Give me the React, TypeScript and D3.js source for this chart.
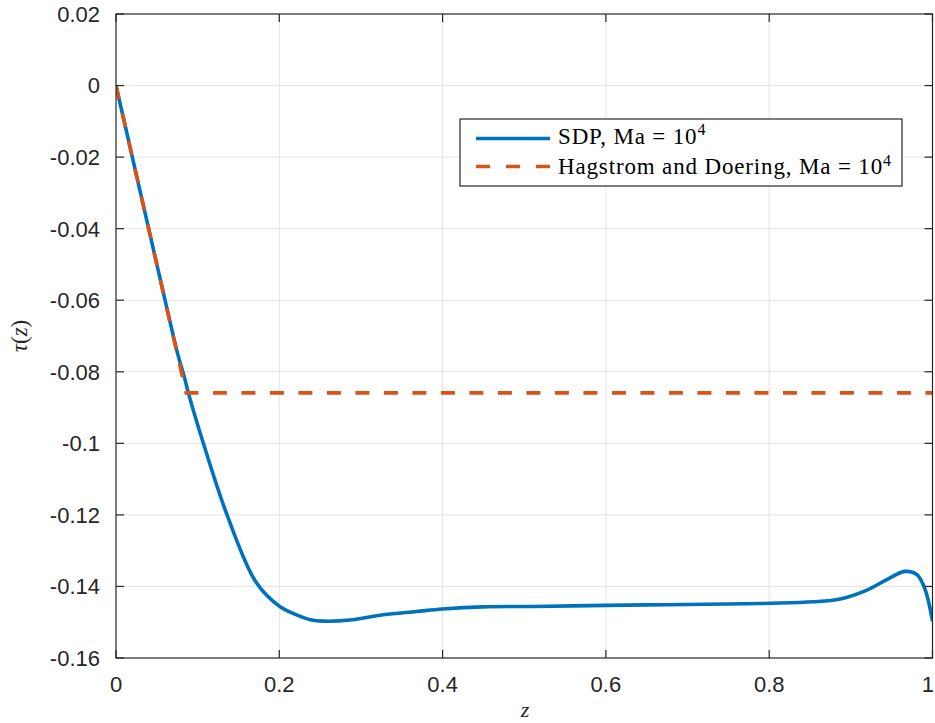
import React from "react";
import * as d3 from "d3";

// SDP profile tau(z) at Ma = 10^4
const zSdp = [0, 0.02, 0.04, 0.06, 0.075, 0.0845, 0.0886, 0.107, 0.136, 0.172, 0.201, 0.225, 0.238, 0.254, 0.2866, 0.327, 0.368, 0.4, 0.45, 0.511, 0.6, 0.674, 0.748, 0.803, 0.854, 0.887, 0.919, 0.944, 0.966, 0.981, 0.991, 1.0];
const tauSdp = [0, -0.02, -0.04, -0.0599, -0.0745, -0.0822, -0.0859, -0.1, -0.12, -0.139, -0.1457, -0.1483, -0.1493, -0.1497, -0.1494, -0.1479, -0.147, -0.1463, -0.1457, -0.1456, -0.1453, -0.1451, -0.1449, -0.1447, -0.1443, -0.1435, -0.1411, -0.1381, -0.1358, -0.1367, -0.1409, -0.1497];

// Hagstrom and Doering background profile
const zHD = [0, 0.0859, 1];
const tauHD = [0, -0.0859, -0.0859];

const xTicks = [0, 0.2, 0.4, 0.6, 0.8, 1];
const xTickLabels = ["0", "0.2", "0.4", "0.6", "0.8", "1"];
const yTicks = [0.02, 0, -0.02, -0.04, -0.06, -0.08, -0.1, -0.12, -0.14, -0.16];
const yTickLabels = ["0.02", "0", "-0.02", "-0.04", "-0.06", "-0.08", "-0.1", "-0.12", "-0.14", "-0.16"];

const W = 935;
const H = 723;
const left = 116;
const right = 932.5;
const top = 14;
const bottom = 658;

const BLUE = "#0072BD";
const ORANGE = "#D95319";
const AXIS = "#262626";
const GRID = "#e3e3e3";
const sans = "'Liberation Sans', Arial, Helvetica, sans-serif";
const serif = "'Liberation Serif', 'Times New Roman', serif";

export default function App() {
  const x = d3.scaleLinear().domain([0, 1]).range([left, right]);
  const y = d3.scaleLinear().domain([-0.16, 0.02]).range([bottom, top]);

  const sdpLine = d3
    .line<number>()
    .x((_, i) => x(zSdp[i]))
    .y((d) => y(d))
    .curve(d3.curveCatmullRom.alpha(0.5));
  const hdLine = d3
    .line<number>()
    .x((_, i) => x(zHD[i]))
    .y((d) => y(d));

  const tickLen = 8;

  return (
    <svg
      width={W}
      height={H}
      style={{ position: "absolute", left: 0, top: 0, background: "#fff" }}
    >
      <defs>
        <clipPath id="plotArea">
          <rect x={left} y={top} width={right - left} height={bottom - top} />
        </clipPath>
      </defs>
      <rect x={0} y={0} width={W} height={H} fill="#fff" />

      {/* grid */}
      {xTicks.slice(1, -1).map((t) => (
        <line key={"gx" + t} x1={x(t)} x2={x(t)} y1={top} y2={bottom} stroke={GRID} strokeWidth={1} />
      ))}
      {yTicks.slice(1, -1).map((t) => (
        <line key={"gy" + t} x1={left} x2={right} y1={y(t)} y2={y(t)} stroke={GRID} strokeWidth={1} />
      ))}

      {/* data */}
      <g clipPath="url(#plotArea)">
        <path d={sdpLine(tauSdp) || ""} fill="none" stroke={BLUE} strokeWidth={3.6} strokeLinejoin="round" />
        <path d={hdLine(tauHD) || ""} fill="none" stroke={ORANGE} strokeWidth={3.6} strokeDasharray="14 14.5" />
      </g>

      {/* axes box */}
      <rect x={left} y={top} width={right - left} height={bottom - top} fill="none" stroke={AXIS} strokeWidth={1.2} />

      {/* ticks */}
      {xTicks.map((t) => (
        <g key={"tx" + t}>
          <line x1={x(t)} x2={x(t)} y1={bottom} y2={bottom - tickLen} stroke={AXIS} strokeWidth={1.2} />
          <line x1={x(t)} x2={x(t)} y1={top} y2={top + tickLen} stroke={AXIS} strokeWidth={1.2} />
        </g>
      ))}
      {yTicks.map((t) => (
        <g key={"ty" + t}>
          <line x1={left} x2={left + tickLen} y1={y(t)} y2={y(t)} stroke={AXIS} strokeWidth={1.2} />
          <line x1={right} x2={right - tickLen} y1={y(t)} y2={y(t)} stroke={AXIS} strokeWidth={1.2} />
        </g>
      ))}

      {/* tick labels */}
      {xTicks.map((t, i) => (
        <text
          key={"lx" + t}
          x={i === xTicks.length - 1 ? W - 1 : x(t)}
          y={692}
          textAnchor={i === xTicks.length - 1 ? "end" : "middle"}
          fontFamily={sans}
          fontSize={22}
          fill={AXIS}
        >
          {xTickLabels[i]}
        </text>
      ))}
      {yTicks.map((t, i) => (
        <text key={"ly" + t} x={100} y={y(t)} dy="0.36em" textAnchor="end" fontFamily={sans} fontSize={22} fill={AXIS}>
          {yTickLabels[i]}
        </text>
      ))}

      {/* axis labels */}
      <text x={525} y={717} textAnchor="middle" fontFamily={serif} fontStyle="italic" fontSize={22} fill={AXIS}>
        z
      </text>
      <text
        transform={`translate(27,${(top + bottom) / 2}) rotate(-90)`}
        textAnchor="middle"
        fontFamily={serif}
        fontSize={23}
        fill={AXIS}
      >
        <tspan fontStyle="italic">τ</tspan>
        <tspan>(</tspan>
        <tspan fontStyle="italic">z</tspan>
        <tspan>)</tspan>
      </text>

      {/* legend */}
      <g>
        <rect x={460} y={119} width={442} height={67} fill="#fff" stroke={AXIS} strokeWidth={1.2} />
        <line x1={476} x2={550} y1={138.5} y2={138.5} stroke={BLUE} strokeWidth={3.6} />
        <line x1={476} x2={550} y1={166.5} y2={166.5} stroke={ORANGE} strokeWidth={3.6} strokeDasharray="14 16" />
        <text x={558} y={143.7} fontFamily={serif} fontSize={23} letterSpacing={0.85} fill="#000">
          SDP, Ma = 10
          <tspan dy={-8.5} fontSize={16}>4</tspan>
        </text>
        <text x={558} y={174} fontFamily={serif} fontSize={23} letterSpacing={0.85} fill="#000">
          Hagstrom and Doering, Ma = 10
          <tspan dy={-8.5} fontSize={16}>4</tspan>
        </text>
      </g>
    </svg>
  );
}
